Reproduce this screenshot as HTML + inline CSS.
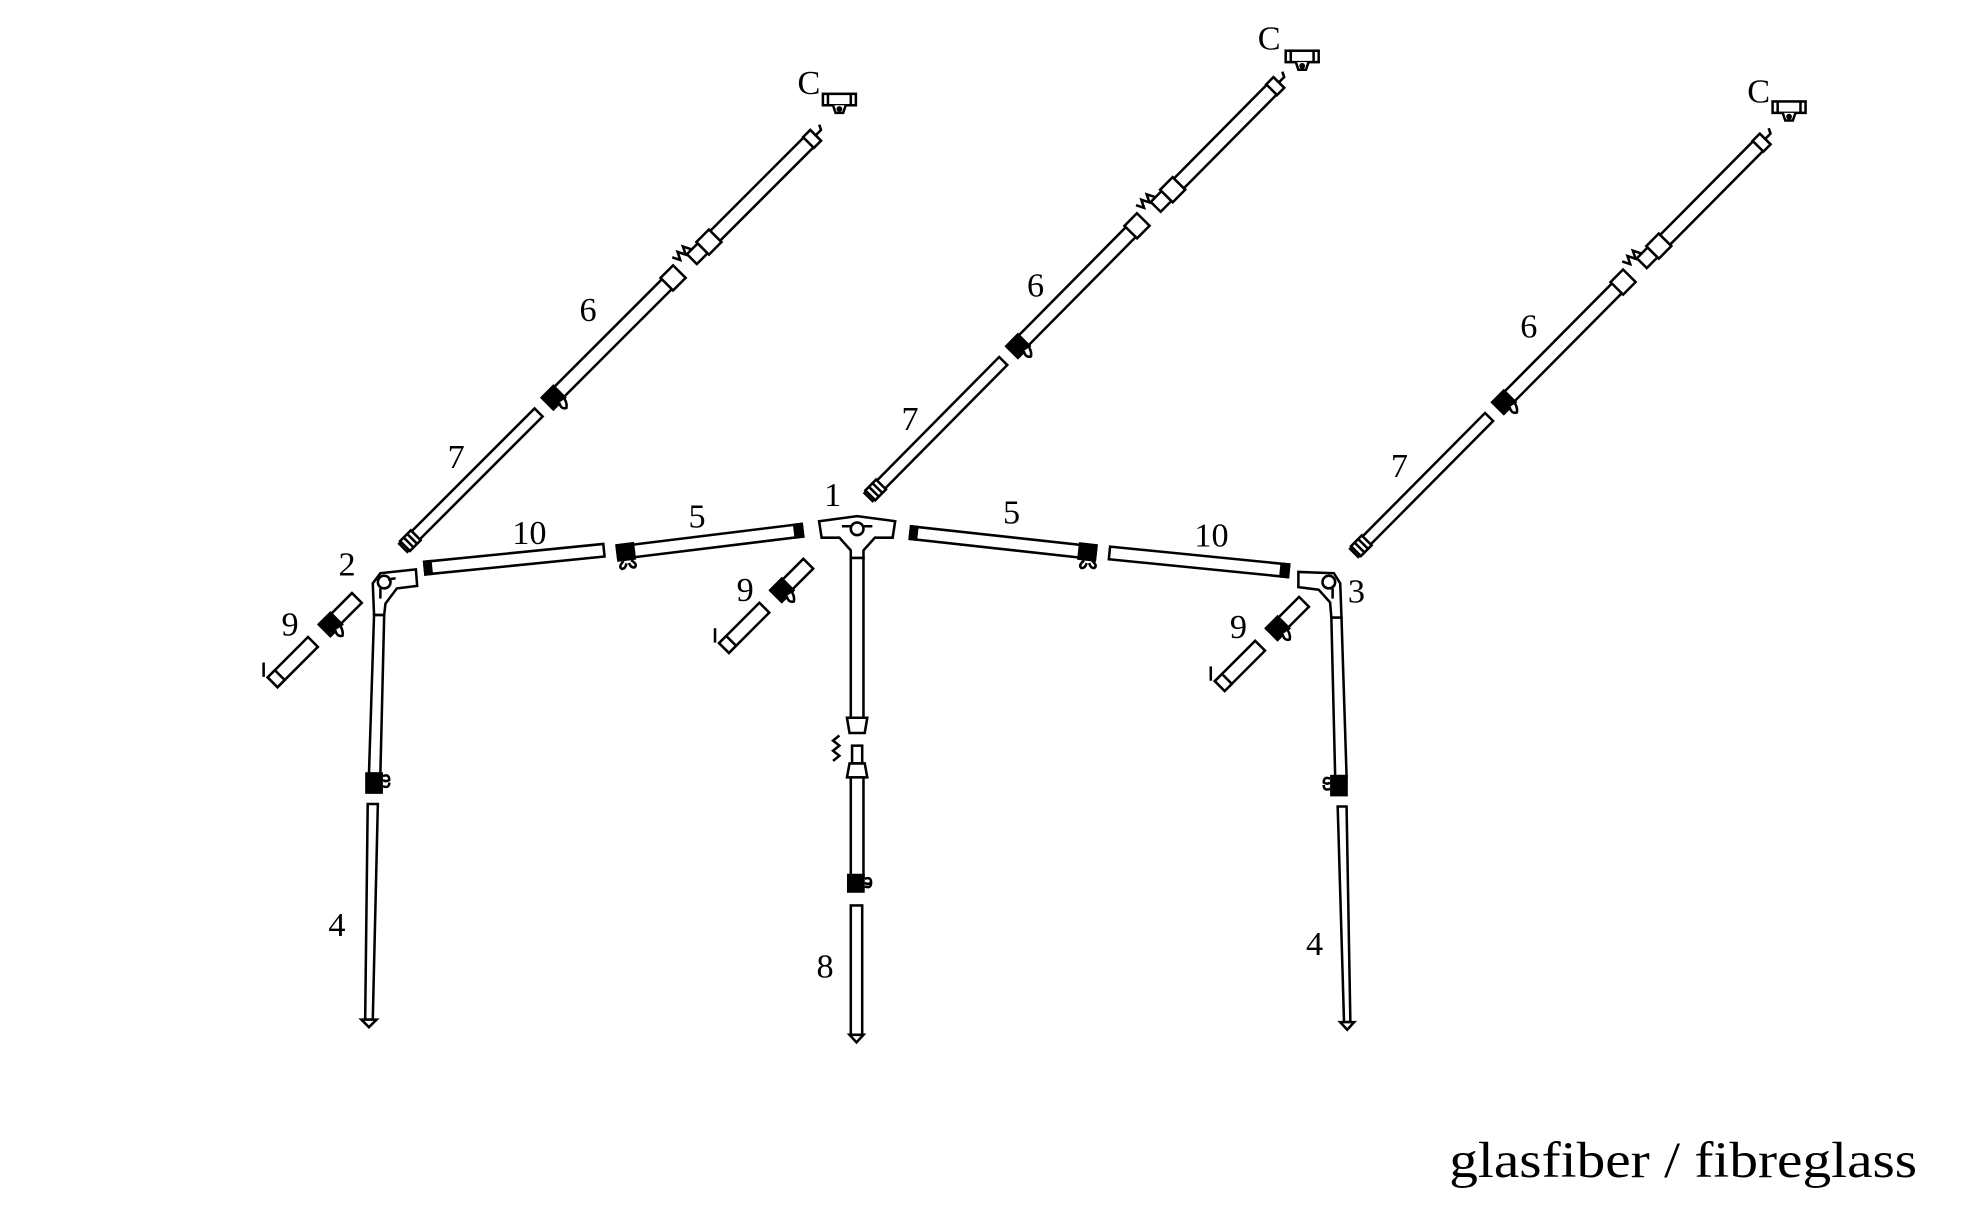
<!DOCTYPE html>
<html><head><meta charset="utf-8"><style>
html,body{margin:0;padding:0;background:#fff;}
svg{display:block}
</style></head><body>
<svg width="1978" height="1206" viewBox="0 0 1560 951" preserveAspectRatio="none" xmlns="http://www.w3.org/2000/svg" font-family="'Liberation Serif', 'Times New Roman', serif">
<defs>
<g id="raft" fill="#fff" stroke="#000" stroke-width="2">
  <rect x="0" y="-4.5" width="151" height="9"/>
  <rect x="2" y="-5.5" width="12" height="11"/>
  <line x1="6" y1="-5.5" x2="6" y2="5.5"/><line x1="10" y1="-5.5" x2="10" y2="5.5"/>
  <rect x="161" y="-5.5" width="142" height="11"/>
  <rect x="161" y="-6.5" width="13" height="13" fill="#000"/>
  <path d="M168 6 q-3 5 1 7 q3 -2 4 -6" />
  <rect x="294" y="-7" width="14" height="14"/>
  <path d="M312 -12 l3 6 l3 -6 l3 6 l3 -6 l3 6" fill="none"/>
  <rect x="322" y="-5.5" width="12" height="11"/>
  <rect x="334" y="-7" width="14" height="14"/>
  <rect x="348" y="-5.5" width="112" height="11"/>
  <rect x="452" y="-6" width="8" height="12"/>
  <path d="M460 0 h6 l2 -4" fill="none"/>
</g>
<g id="cap" fill="#fff" stroke="#000" stroke-width="2">
  <rect x="-13" y="-4" width="26" height="9"/>
  <line x1="-9" y1="-4" x2="-9" y2="5"/><line x1="9" y1="-4" x2="9" y2="5"/>
  <path d="M-5 5 l2 6 h6 l2 -6"/>
  <circle cx="0" cy="8" r="1.3" fill="#000"/>
</g>
<g id="nine" fill="#fff" stroke="#000" stroke-width="2">
  <rect x="0" y="-5.5" width="36" height="11"/>
  <rect x="0" y="-6.5" width="13" height="13" fill="#000"/>
  <path d="M6 6 q-3 5 1 7 q3 -2 4 -6"/>
  <rect x="-58" y="-5.5" width="45" height="11"/>
  <rect x="-58" y="-5.5" width="8" height="11"/>
  <line x1="-60" y1="-8" x2="-52" y2="-16"/>
</g>
</defs>

<use href="#raft" transform="translate(318,432) rotate(-45)"/>
<use href="#cap" transform="translate(662,78)"/>
<use href="#raft" transform="translate(685,392) rotate(-45.3)"/>
<use href="#cap" transform="translate(1027,44)"/>
<use href="#raft" transform="translate(1068,436) rotate(-45.2)"/>
<use href="#cap" transform="translate(1411,84)"/>

<g fill="#fff" stroke="#000" stroke-width="2">
  <rect x="0" y="-5" width="142" height="10" transform="translate(335,448) rotate(-5.7)"/>
  <rect x="0" y="-5" width="5" height="10" fill="#000" transform="translate(335,448) rotate(-5.7)"/>
  <rect x="0" y="-5" width="147" height="10" transform="translate(487,436) rotate(-7)"/>
  <rect x="0" y="-6" width="13" height="12" fill="#000" transform="translate(487,436) rotate(-7)"/>
  <path d="M491 443 q-5 4 -2 6 q3 0 4 -4 M497 443 q5 4 2 6 q-3 0 -4 -4" transform="rotate(-7 487 436)"/>
  <rect x="141" y="-5" width="6" height="10" fill="#000" transform="translate(487,436) rotate(-7)"/>
  <rect x="0" y="-5" width="147" height="10" transform="translate(718,420) rotate(6.25)"/>
  <rect x="0" y="-5" width="5" height="10" fill="#000" transform="translate(718,420) rotate(6.25)"/>
  <rect x="134" y="-6" width="13" height="12" fill="#000" transform="translate(718,420) rotate(6.25)"/>
  <path d="M855 442 q-5 4 -2 6 q3 0 4 -4 M861 442 q5 4 2 6 q-3 0 -4 -4"/>
  <rect x="0" y="-5" width="142" height="10" transform="translate(875,436) rotate(5.7)"/>
  <rect x="136" y="-5" width="6" height="10" fill="#000" transform="translate(875,436) rotate(5.7)"/>

  <polygon points="646,411 676,407 706,411 704,424 690,424 681,434 681,440 671,440 671,434 662,424 648,424"/>
  <line x1="664" y1="415" x2="688" y2="415"/>
  <circle cx="676" cy="417" r="5"/>
  <rect x="671" y="440" width="10" height="126"/>
  <polygon points="668,566 684,566 682,578 670,578"/>
  <path d="M662 580 l-5 4 l5 4 l-5 4 l5 4 l-5 4" fill="none"/>
  <rect x="672" y="588" width="8" height="14"/>
  <polygon points="670,602 682,602 684,613 668,613"/>
  <rect x="671" y="613" width="10" height="78"/>
  <rect x="669" y="690" width="12" height="13" fill="#000"/>
  <path d="M682 693 q5 -2 5 3 q-3 2 -5 0 M682 699 q5 2 5 -3" fill="none"/>
  <rect x="671" y="714" width="9" height="102"/>
  <path d="M670 816 h11 l-5.5 6 z"/>

  <polygon points="294,460 300,452 328,449 329,462 313,464 304,476 303,485 295,485"/>
  <circle cx="303" cy="459" r="5"/>
  <line x1="300" y1="464" x2="300" y2="472"/><line x1="306" y1="457" x2="312" y2="456"/>
  <polygon points="295,485 303,485 300,610 291,610"/>
  <rect x="289" y="610" width="12" height="15" fill="#000"/>
  <path d="M302 612 q5 -2 5 3 q-3 2 -5 0 M302 620 q5 2 5 -3" fill="none"/>
  <polygon points="290,634 298,634 294,804 288,804"/>
  <path d="M285 804 h12 l-6 6 z"/>

  <polygon points="1024,451 1052,452 1057,460 1058,487 1050,487 1049,475 1040,465 1024,463"/>
  <circle cx="1048" cy="459" r="5"/>
  <line x1="1051" y1="464" x2="1051" y2="472"/>
  <polygon points="1050,487 1058,487 1062,612 1053,612"/>
  <rect x="1050" y="612" width="12" height="15" fill="#000"/>
  <path d="M1049 614 q-5 -2 -5 3 q3 2 5 0 M1049 622 q-5 2 -5 -3" fill="none"/>
  <polygon points="1055,636 1062,636 1065,806 1060,806"/>
  <path d="M1057 806 h11 l-5.5 6 z"/>
</g>

<use href="#nine" transform="translate(256,497) rotate(-45)"/>
<use href="#nine" transform="translate(612,470) rotate(-45)"/>
<use href="#nine" transform="translate(1003,500) rotate(-45)"/>

<g font-size="27" fill="#000" font-family="'Liberation Serif', serif">
<text x="457" y="253">6</text>
<text x="353" y="369">7</text>
<text x="404" y="429">10</text>
<text x="543" y="416">5</text>
<text x="650" y="399">1</text>
<text x="267" y="454">2</text>
<text x="222" y="501">9</text>
<text x="581" y="474">9</text>
<text x="259" y="738">4</text>
<text x="644" y="771">8</text>
<text x="810" y="234">6</text>
<text x="711" y="339">7</text>
<text x="791" y="413">5</text>
<text x="942" y="431">10</text>
<text x="1063" y="475">3</text>
<text x="970" y="503">9</text>
<text x="1030" y="753">4</text>
<text x="1199" y="266">6</text>
<text x="1097" y="376">7</text>
<text x="629" y="74">C</text>
<text x="992" y="39">C</text>
<text x="1378" y="81">C</text>
</g>
<text x="1143" y="928" font-size="40" fill="#000" font-family="'Liberation Serif', serif" textLength="369" lengthAdjust="spacingAndGlyphs">glasfiber / fibreglass</text>
</svg>
</body></html>
